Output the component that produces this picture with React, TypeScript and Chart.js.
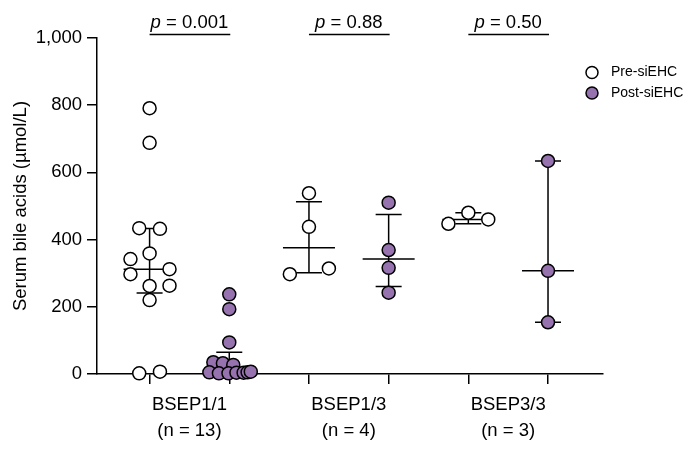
import React, { useEffect, useRef } from "react";
import { Chart, registerables } from "chart.js";

Chart.register(...registerables);

const FONT = '"Liberation Sans", Arial, Helvetica, sans-serif';

// Categories / labels
const groupLabels = [
  ["BSEP1/1", "(n = 13)"],
  ["BSEP1/3", "(n = 4)"],
  ["BSEP3/3", "(n = 3)"],
];
const pValueLabels = ["0.001", "0.88", "0.50"];
const seriesNames = ["Pre-siEHC", "Post-siEHC"];
const seriesColors = ["#FFFFFF", "#9673AF"];
const yTickValues = [0, 200, 400, 600, 800, 1000];

// Serum bile acids (µmol/L) per patient
const preBSEP11 = [791, 688, 434, 432, 359, 342, 297, 312, 262, 263, 220, 2, 7];
const postBSEP11 = [237, 193, 94, 35, 32, 27, 5, 2, 2, 4, 4, 5, 7];
const preBSEP13 = [538, 438, 297, 314];
const postBSEP13 = [510, 369, 316, 242];
const preBSEP33 = [480, 447, 460];
const postBSEP33 = [634, 307, 154];

// horizontal scatter (jitter) of each point, in category units
const preJitter11 = [0, 0, -0.13, 0.13, 0, -0.24, -0.24, 0.25, 0, 0.25, 0, -0.13, 0.13];
const postJitter11 = [0, 0, 0, -0.2, -0.08, 0.05, -0.25, -0.13, -0.01, 0.09, 0.18, 0.23, 0.27];
const preJitter13 = [0, 0, -0.24, 0.25];
const postJitter13 = [0, 0, 0, 0];
const preJitter33 = [0, -0.25, 0.25];
const postJitter33 = [0, 0, 0];

const preGroups = [preBSEP11, preBSEP13, preBSEP33];
const postGroups = [postBSEP11, postBSEP13, postBSEP33];
const preJitters = [preJitter11, preJitter13, preJitter33];
const postJitters = [postJitter11, postJitter13, postJitter33];

const prePositions = [1, 3, 5];
const postPositions = [2, 4, 6];
const groupCenters = [1.5, 3.5, 5.5];
const X_MIN = 0.34;
const X_MAX = 6.69;

function quantile(vals: number[], p: number) {
  const s = [...vals].sort((a, b) => a - b);
  const n = s.length;
  let pos = p * (n + 1);
  if (pos < 1) pos = 1;
  if (pos > n) pos = n;
  const lo = Math.floor(pos);
  const frac = pos - lo;
  if (lo >= n) return s[n - 1];
  return s[lo - 1] + frac * (s[lo] - s[lo - 1]);
}

function toPoints(groups: number[][], jitters: number[][], positions: number[]) {
  const pts: { x: number; y: number }[] = [];
  groups.forEach((vals, g) => {
    vals.forEach((v, i) => pts.push({ x: positions[g] + jitters[g][i], y: v }));
  });
  return pts;
}

const errorBarPlugin = {
  id: "medianIqr",
  beforeDatasetsDraw(chart: any) {
    const { ctx, scales } = chart;
    const xs = scales.x;
    const ys = scales.y;
    ctx.save();
    ctx.strokeStyle = "#000";
    ctx.lineWidth = 1.5;
    const draw = (vals: number[], pos: number) => {
      const x = xs.getPixelForValue(pos);
      const q1 = ys.getPixelForValue(quantile(vals, 0.25));
      const med = ys.getPixelForValue(quantile(vals, 0.5));
      const q3 = ys.getPixelForValue(quantile(vals, 0.75));
      ctx.beginPath();
      ctx.moveTo(x, q1);
      ctx.lineTo(x, q3);
      ctx.moveTo(x - 13, q1);
      ctx.lineTo(x + 13, q1);
      ctx.moveTo(x - 13, q3);
      ctx.lineTo(x + 13, q3);
      ctx.moveTo(x - 26, med);
      ctx.lineTo(x + 26, med);
      ctx.stroke();
    };
    preGroups.forEach((v, g) => draw(v, prePositions[g]));
    postGroups.forEach((v, g) => draw(v, postPositions[g]));
    ctx.restore();
  },
};

const annotationPlugin = {
  id: "pAndLegend",
  afterDraw(chart: any) {
    const { ctx, scales, chartArea } = chart;
    const xs = scales.x;
    ctx.save();
    // p values
    pValueLabels.forEach((pv, g) => {
      const cx = xs.getPixelForValue(groupCenters[g]);
      ctx.font = `italic 18.5px ${FONT}`;
      const wp = ctx.measureText("p").width;
      const rest = ` = ${pv}`;
      ctx.font = `18.5px ${FONT}`;
      const wr = ctx.measureText(rest).width;
      const x0 = cx - (wp + wr) / 2;
      ctx.fillStyle = "#000";
      ctx.textBaseline = "alphabetic";
      ctx.textAlign = "left";
      ctx.font = `italic 18.5px ${FONT}`;
      ctx.fillText("p", x0, 27.5);
      ctx.font = `18.5px ${FONT}`;
      ctx.fillText(rest, x0 + wp, 27.5);
      const xa = xs.getPixelForValue(prePositions[g]);
      const xb = xs.getPixelForValue(postPositions[g]);
      ctx.strokeStyle = "#000";
      ctx.lineWidth = 1.5;
      ctx.beginPath();
      ctx.moveTo(xa, 34.5);
      ctx.lineTo(xb + 1, 34.5);
      ctx.stroke();
    });
    // legend
    seriesNames.forEach((name, i) => {
      const cy = 72.5 + i * 20.5;
      const cx = chartArea.right - 11;
      ctx.beginPath();
      ctx.arc(cx, cy, 6, 0, Math.PI * 2);
      ctx.fillStyle = seriesColors[i];
      ctx.fill();
      ctx.lineWidth = 1.5;
      ctx.strokeStyle = "#000";
      ctx.stroke();
      ctx.fillStyle = "#000";
      ctx.font = `14px ${FONT}`;
      ctx.textAlign = "left";
      ctx.textBaseline = "middle";
      ctx.fillText(name, chartArea.right + 8, cy);
    });
    ctx.restore();
  },
};

export default function App() {
  const ref = useRef<HTMLCanvasElement | null>(null);

  useEffect(() => {
    document.body.style.margin = "0";
    if (!ref.current) return;
    Chart.defaults.font.family = FONT;
    Chart.defaults.color = "#000";
    const chart = new Chart(ref.current, {
      type: "scatter",
      data: {
        datasets: [
          {
            label: seriesNames[0],
            data: toPoints(preGroups, preJitters, prePositions),
            backgroundColor: seriesColors[0],
            borderColor: "#000",
            borderWidth: 1.5,
            pointRadius: 6.5,
            clip: false as any,
          },
          {
            label: seriesNames[1],
            data: toPoints(postGroups, postJitters, postPositions),
            backgroundColor: seriesColors[1],
            borderColor: "#000",
            borderWidth: 1.5,
            pointRadius: 6.5,
            clip: false as any,
          },
        ],
      },
      plugins: [errorBarPlugin, annotationPlugin],
      options: {
        responsive: false,
        animation: false,
        locale: "en-US",
        layout: { padding: { top: 38, right: 89, bottom: 0, left: 0 } },
        plugins: { legend: { display: false }, tooltip: { enabled: false } },
        scales: {
          x: {
            type: "linear",
            position: "bottom",
            min: X_MIN,
            max: X_MAX,
            bounds: "data",
            weight: 0,
            afterBuildTicks: (axis: any) => {
              axis.ticks = [...prePositions, ...postPositions]
                .sort((a, b) => a - b)
                .map((v) => ({ value: v }));
            },
            afterFit: (axis: any) => {
              axis.height = 10;
            },
            ticks: { display: false },
            grid: {
              drawOnChartArea: false,
              drawTicks: true,
              tickLength: 10,
              color: "#000",
              lineWidth: 1.5,
            },
            border: { display: true, color: "#000", width: 1.5 },
          },
          xg: {
            type: "linear",
            position: "bottom",
            min: X_MIN,
            max: X_MAX,
            bounds: "data",
            weight: 1,
            afterBuildTicks: (axis: any) => {
              axis.ticks = groupCenters.map((v) => ({ value: v }));
            },
            afterFit: (axis: any) => {
              axis.height = 66;
            },
            ticks: {
              autoSkip: false,
              maxRotation: 0,
              padding: 8,
              font: { size: 18.5, lineHeight: 1.4 },
              color: "#000",
              callback: (_v: any, i: number) => groupLabels[i],
            },
            grid: { display: false, drawTicks: false, tickLength: 0 },
            border: { display: false },
          },
          y: {
            type: "linear",
            min: 0,
            max: 1000,
            afterBuildTicks: (axis: any) => {
              axis.ticks = yTickValues.map((v) => ({ value: v }));
            },
            afterFit: (axis: any) => {
              axis.width = 97;
            },
            ticks: {
              padding: 5,
              font: { size: 18.5 },
              color: "#000",
              callback: (v: any) => Number(v).toLocaleString("en-US"),
            },
            grid: {
              drawOnChartArea: false,
              drawTicks: true,
              tickLength: 10,
              color: "#000",
              lineWidth: 1.5,
            },
            border: { display: true, color: "#000", width: 1.5 },
            title: {
              display: true,
              text: "Serum bile acids (µmol/L)",
              font: { size: 18.5 },
              color: "#000",
              padding: { top: 10, bottom: 0 },
            },
          },
        },
      } as any,
    });
    return () => chart.destroy();
  }, []);

  return (
    <div style={{ width: 692, height: 450 }}>
      <canvas ref={ref} width={692} height={450} style={{ display: "block" }} />
    </div>
  );
}
